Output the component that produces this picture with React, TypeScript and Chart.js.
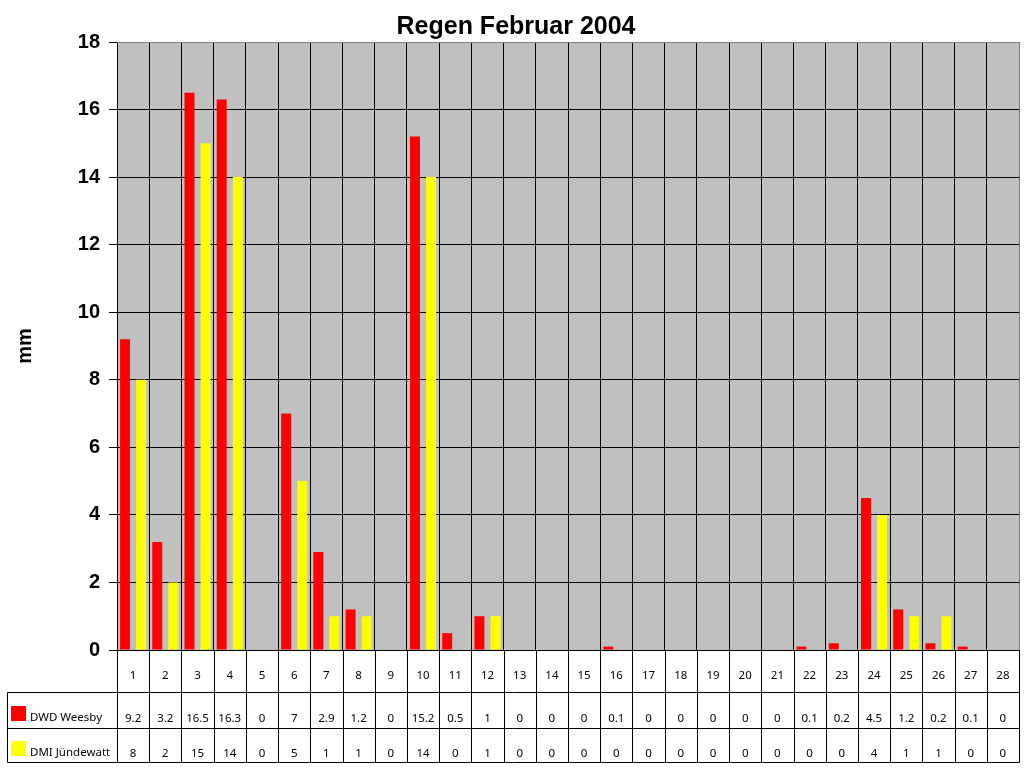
import React, { useEffect, useRef } from "react";
import { Chart, registerables } from "chart.js";

Chart.register(...registerables);

const chartTitle = "Regen Februar 2004";
const yAxisTitle = "mm";
const days = [
  "1", "2", "3", "4", "5", "6", "7", "8", "9", "10", "11", "12", "13", "14",
  "15", "16", "17", "18", "19", "20", "21", "22", "23", "24", "25", "26", "27", "28",
];
const dwdLabel = "DWD Weesby";
const dwdWeesby = [
  9.2, 3.2, 16.5, 16.3, 0, 7, 2.9, 1.2, 0, 15.2, 0.5, 1, 0, 0,
  0, 0.1, 0, 0, 0, 0, 0, 0.1, 0.2, 4.5, 1.2, 0.2, 0.1, 0,
];
const dmiLabel = "DMI Jündewatt";
const dmiJuendewatt = [
  8, 2, 15, 14, 0, 5, 1, 1, 0, 14, 0, 1, 0, 0,
  0, 0, 0, 0, 0, 0, 0, 0, 0, 4, 1, 1, 0, 0,
];
const yMin = 0;
const yMax = 18;
const yStep = 2;

const RED = "#FF0000";
const YELLOW = "#FFFF00";
const TABLE_FONT = "11.5px 'Noto Sans', 'DejaVu Sans', sans-serif";

const px = (v: number) => Math.round(v) + 0.5;

const tablePlugin = {
  id: "dataTable",
  beforeDraw(chart: any) {
    const { ctx, chartArea: a } = chart;
    ctx.save();
    ctx.fillStyle = "#C0C0C0";
    ctx.fillRect(a.left, a.top, a.right - a.left, a.bottom - a.top);
    ctx.restore();
  },
  afterDraw(chart: any) {
    const { ctx, chartArea: a } = chart;
    const xs = chart.scales.x;
    const n = days.length;
    const cw = (xs.getPixelForValue(n - 1) - xs.getPixelForValue(0)) / (n - 1);
    const edge = (i: number) =>
      i < n ? xs.getPixelForValue(i) - cw / 2 : xs.getPixelForValue(n - 1) + cw / 2;

    ctx.save();
    // grey top/right border of plot area
    ctx.strokeStyle = "#808080";
    ctx.lineWidth = 1;
    ctx.beginPath();
    ctx.moveTo(a.left, px(a.top));
    ctx.lineTo(px(a.right), px(a.top));
    ctx.lineTo(px(a.right), a.bottom);
    ctx.stroke();

    const y0 = a.bottom;
    const y1 = y0 + 42;
    const y2 = y1 + 36;
    const y3 = y2 + 34;
    const tableLeft = 7;
    const right = edge(n);

    ctx.strokeStyle = "#000";
    const line = (x1: number, ya: number, x2: number, yb: number) => {
      ctx.beginPath();
      ctx.moveTo(px(x1), px(ya));
      ctx.lineTo(px(x2), px(yb));
      ctx.stroke();
    };
    for (let i = 0; i <= n; i++) {
      line(edge(i), y0, edge(i), y3);
    }
    line(tableLeft, y1, right, y1);
    line(tableLeft, y2, right, y2);
    line(tableLeft, y3, right, y3);
    line(tableLeft, y1, tableLeft, y3);

    ctx.fillStyle = "#000";
    ctx.font = TABLE_FONT;
    ctx.textAlign = "center";
    ctx.textBaseline = "middle";
    for (let i = 0; i < n; i++) {
      const cx = xs.getPixelForValue(i);
      ctx.fillText(days[i], cx, y0 + 26);
      ctx.fillText(String(dwdWeesby[i]), cx, y1 + 27);
      ctx.fillText(String(dmiJuendewatt[i]), cx, y2 + 26);
    }

    // legend keys
    ctx.fillStyle = RED;
    ctx.fillRect(11, y1 + 14, 15, 15);
    ctx.fillStyle = YELLOW;
    ctx.fillRect(11, y2 + 13, 15, 15);
    ctx.fillStyle = "#000";
    ctx.textAlign = "left";
    ctx.fillText(dwdLabel, 30, y1 + 26);
    ctx.fillText(dmiLabel, 30, y2 + 25);
    ctx.restore();
  },
};

export default function App() {
  const ref = useRef<HTMLCanvasElement | null>(null);

  useEffect(() => {
    if (!ref.current) return;
    const chart = new Chart(ref.current, {
      type: "bar",
      data: {
        labels: days,
        datasets: [
          {
            label: dwdLabel,
            data: dwdWeesby,
            backgroundColor: RED,
            borderWidth: 0,
            categoryPercentage: 1,
            barPercentage: 0.62,
          },
          {
            label: dmiLabel,
            data: dmiJuendewatt,
            backgroundColor: YELLOW,
            borderWidth: 0,
            categoryPercentage: 1,
            barPercentage: 0.62,
          },
        ],
      },
      options: {
        animation: false,
        responsive: true,
        maintainAspectRatio: false,
        layout: { padding: { left: 13, right: 5, top: 0, bottom: 118 } },
        plugins: {
          legend: { display: false },
          tooltip: { enabled: false },
          title: {
            display: true,
            text: chartTitle,
            color: "#000",
            font: {
              family: "'Liberation Sans', Arial, sans-serif",
              size: 25,
              weight: "bold",
              lineHeight: 1,
            },
            padding: { top: 14.5, bottom: 2.5 },
          },
        },
        scales: {
          x: {
            type: "category",
            offset: true,
            grid: { offset: true, color: "#000", lineWidth: 1, drawTicks: false },
            ticks: { display: false },
            border: { color: "#000", width: 1 },
          },
          y: {
            min: yMin,
            max: yMax,
            afterFit: (scale: any) => {
              scale.width = 104;
            },
            ticks: {
              stepSize: yStep,
              color: "#000",
              padding: 9,
              font: { family: "'Liberation Sans', Arial, sans-serif", size: 20, weight: "bold" },
            },
            grid: { color: "#000", lineWidth: 1, drawTicks: true, tickLength: 8 },
            border: { color: "#000", width: 1 },
            title: {
              display: true,
              text: yAxisTitle,
              color: "#000",
              font: { family: "'Liberation Sans', Arial, sans-serif", size: 20, weight: "bold" },
              padding: { top: 0, bottom: 0 },
            },
          },
        },
      },
      plugins: [tablePlugin],
    });
    return () => chart.destroy();
  }, []);

  return (
    <div style={{ position: "fixed", left: 0, top: 0, width: 1024, height: 768, background: "#fff" }}>
      <canvas ref={ref} />
    </div>
  );
}
